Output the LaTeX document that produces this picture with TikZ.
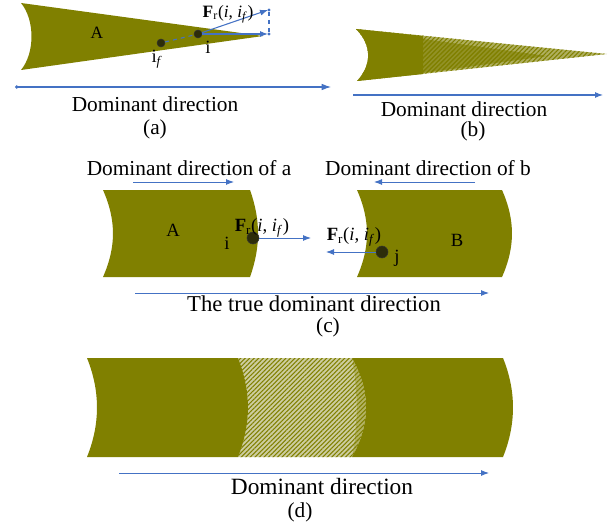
\documentclass[tikz,border=0pt]{standalone}
\usepackage{fontspec}
\setmainfont{Liberation Serif}
\usetikzlibrary{arrows.meta,patterns.meta}
\definecolor{olv}{RGB}{128,128,0}
\definecolor{lightolv}{RGB}{205,205,160}
\definecolor{midolv}{RGB}{175,175,95}
\definecolor{dotc}{RGB}{45,45,10}
\definecolor{arr}{RGB}{68,114,196}
\newcommand{\FrLbl}{\textbf{F}\textsubscript{r}(\textit{i}, \textit{i}\textsubscript{\textit{f}})}
\begin{document}
\begin{tikzpicture}[x=0.75pt,y=-0.75pt,
  solidpart/.style={fill=olv,draw=none},
  hatchpart/.style={fill=#1,draw=none,postaction={pattern={Lines[angle=45,distance=2.4pt,line width=0.8pt]},pattern color=olv}},
  hatchpart/.default=lightolv,
  darkhatch/.style={fill=olv,fill opacity=0.6,draw=none,postaction={pattern={Lines[angle=45,distance=2.4pt,line width=0.8pt]},pattern color=olv}},
  dotnode/.style={circle,fill=dotc,draw=black!80,inner sep=0pt,minimum size=#1},
  dotnode/.default=8pt,
  tipdot/.style={circle,fill=arr,inner sep=0pt,minimum size=2.5pt},
  bluearrow/.style={draw=arr,line width=0.8pt,-{Latex[length=6pt,width=4.5pt]}},
  bluedash/.style={draw=arr,line width=0.8pt,dashed},
  lbl/.style={inner sep=0pt,font=\fontsize{14}{16}\selectfont},
  captxt/.style={inner sep=0pt,font=\fontsize{16}{18}\selectfont},
  bigcaptxt/.style={inner sep=0pt,font=\fontsize{17.5}{20}\selectfont}]
\useasboundingbox (0,0) rectangle (610,531);

% ---------------- (a) ----------------
\fill[solidpart] (21,3) .. controls (35,20) and (35,53) .. (21,70) -- (263,36) -- cycle;
\node[lbl,font=\fontsize{13}{15}\selectfont] (la) at (97,33) {A};
\node[dotnode=6pt] (if) at (161,43) {};
\node[dotnode=6pt] (ia) at (198,34) {};
\node[lbl] (lif) at (157,59) {i\textsubscript{\textit{f}}};
\node[lbl] (lia) at (208,47) {i};
\coordinate (pa1) at (268,10);
\coordinate (pa2) at (268,34);
\node[tipdot] (ta1) at (269,10) {};
\node[tipdot] (ta2) at (269,34) {};
\draw[bluedash] (if) -- (ia);
\draw[bluearrow] (ia) -- (pa2);
\draw[bluearrow] (ia) -- (pa1);
\draw[bluedash] (ta1) -- (ta2);
\node[lbl,font=\fontsize{13}{15}\selectfont] (fa) at (228,14) {\FrLbl};
\coordinate (da0) at (15,87);
\coordinate (da1) at (331,87);
\draw[draw=arr,line width=0.8pt,{Circle[length=2.5pt]}-{Latex[length=7pt,width=5pt]}] (da0) -- (da1);
\node[captxt] (dta) at (155,104) {Dominant direction};
\node[captxt] (capa) at (155,129) {(a)};

% ---------------- (b) ----------------
\fill[hatchpart=midolv] (356,29) .. controls (372,45) and (372,65) .. (357,81) -- (607,54) -- cycle;
\fill[solidpart] (356,29) .. controls (372,45) and (372,65) .. (357,81) -- (423,74) -- (423,36) -- cycle;
\fill[darkhatch] (423,39) -- (423,73) -- (547,56) -- cycle;
\coordinate (db0) at (353,95);
\coordinate (db1) at (603,95);
\draw[bluearrow] (db0) -- (db1);
\node[captxt] (dtb) at (464,109) {Dominant direction};
\node[captxt] (capb) at (473,131) {(b)};

% ---------------- (c) ----------------
\node[captxt] (hda) at (189,168) {Dominant direction of a};
\node[captxt] (hdb) at (428,168) {Dominant direction of b};
\coordinate (ha0) at (133,182);
\coordinate (ha1) at (234,182);
\draw[bluearrow,line width=0.7pt] (ha0) -- (ha1);
\coordinate (hb0) at (475,182);
\coordinate (hb1) at (374,182);
\draw[bluearrow,line width=0.7pt] (hb0) -- (hb1);

\fill[solidpart] (103,190) .. controls (116.3,220) and (116.3,247) .. (103,277) -- (250,277) .. controls (260.7,247) and (260.7,220) .. (250,190) -- cycle;
\fill[solidpart] (357,190) .. controls (370.3,220) and (370.3,247) .. (357,277) -- (502,277) .. controls (515.3,247) and (515.3,220) .. (502,190) -- cycle;
\node[lbl] (lA) at (173,230) {A};
\node[lbl] (lB) at (457,240) {B};
\node[dotnode=9pt] (ic) at (253,238) {};
\node[lbl] (lic) at (227,243) {i};
\node[dotnode=9pt] (jc) at (382,252) {};
\node[lbl] (ljc) at (397,258) {j};
\node[lbl] (fc1) at (262,228) {\FrLbl};
\node[lbl] (fc2) at (354,237) {\FrLbl};
\coordinate (ac1) at (311,238);
\coordinate (ac2) at (326,252);
\draw[bluearrow,line width=0.7pt] (ic) -- (ac1);
\draw[bluearrow,line width=0.7pt] (jc) -- (ac2);
\coordinate (tc0) at (135,293);
\coordinate (tc1) at (489,293);
\draw[bluearrow,line width=0.7pt] (tc0) -- (tc1);
\node[captxt,font=\fontsize{17}{19}\selectfont] (dtc) at (314,304) {The true dominant direction};
\node[captxt] (capc) at (328,327) {(c)};

% ---------------- (d) ----------------
\fill[hatchpart] (238,358) .. controls (251.3,391) and (251.3,424) .. (238,457) -- (352,457) .. controls (358,424) and (358,391) .. (352,358) -- cycle;
\fill[solidpart] (87,358) .. controls (100.3,391) and (100.3,424) .. (87,457) -- (238,457) .. controls (251.3,424) and (251.3,391) .. (238,358) -- cycle;
\fill[darkhatch] (352,358) .. controls (358,391) and (358,424) .. (352,457) .. controls (370.7,424) and (370.7,391) .. (352,358) -- cycle;
\fill[solidpart] (352,358) .. controls (370.7,391) and (370.7,424) .. (352,457) -- (503,457) .. controls (516.3,424) and (516.3,391) .. (503,358) -- cycle;
\coordinate (dd0) at (119,473);
\coordinate (dd1) at (489,473);
\draw[bluearrow,line width=0.7pt] (dd0) -- (dd1);
\node[bigcaptxt] (dtd) at (322,487) {Dominant direction};
\node[captxt] (capd) at (300,512) {(d)};
\end{tikzpicture}
\end{document}
